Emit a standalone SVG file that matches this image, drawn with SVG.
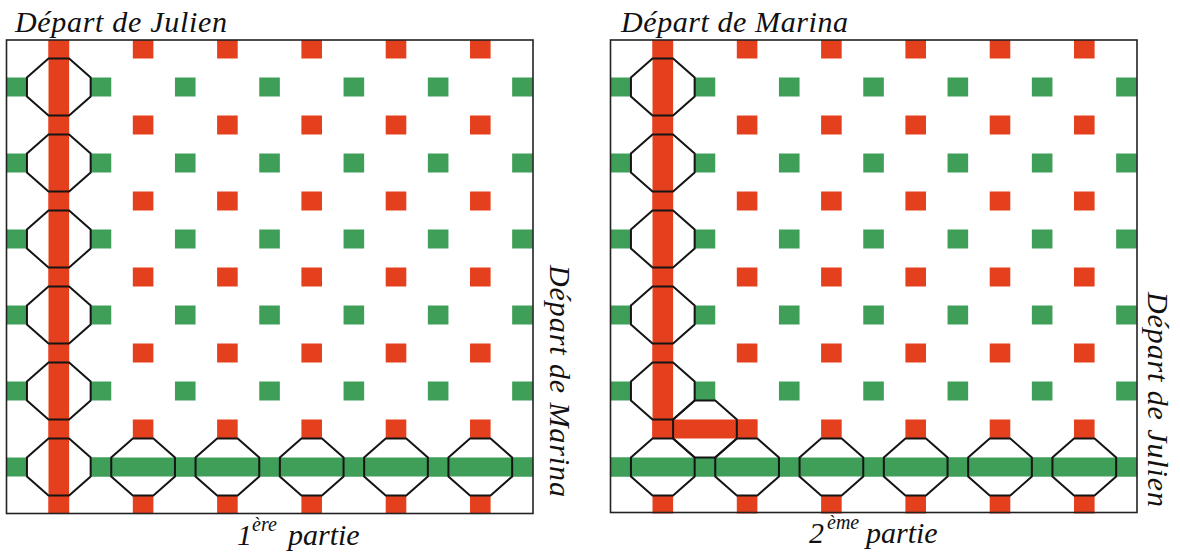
<svg xmlns="http://www.w3.org/2000/svg" xmlns:xlink="http://www.w3.org/1999/xlink" width="1180" height="555" viewBox="0 0 1180 555">
<style>
.red{fill:#E5401E}
.green{fill:#3F9E58}
.oct{fill:none;stroke:#151515;stroke-width:2;stroke-linejoin:miter}
.frame{fill:none;stroke:#222;stroke-width:1.6}
.lbl{font-family:'Liberation Serif','DejaVu Serif',serif;font-style:italic;fill:#111;font-size:30px}
.sup{font-size:20px}
</style>
<defs>
<g id="redRow" class="red">
<rect x="48.5" y="-9.5" width="20.6" height="19"/>
<rect x="132.8" y="-9.5" width="20.6" height="19"/>
<rect x="217.1" y="-9.5" width="20.6" height="19"/>
<rect x="301.4" y="-9.5" width="20.6" height="19"/>
<rect x="385.7" y="-9.5" width="20.6" height="19"/>
<rect x="470.0" y="-9.5" width="20.6" height="19"/>
</g>
<g id="greenRow" class="green">
<rect x="6.35" y="-9.5" width="20.6" height="19"/>
<rect x="90.65" y="-9.5" width="20.6" height="19"/>
<rect x="174.95" y="-9.5" width="20.6" height="19"/>
<rect x="259.25" y="-9.5" width="20.6" height="19"/>
<rect x="343.55" y="-9.5" width="20.6" height="19"/>
<rect x="427.85" y="-9.5" width="20.6" height="19"/>
<rect x="512.15" y="-9.5" width="20.6" height="19"/>
</g>
<g id="grid">
<use href="#redRow" y="49"/>
<use href="#redRow" y="125"/>
<use href="#redRow" y="201"/>
<use href="#redRow" y="277"/>
<use href="#redRow" y="353"/>
<use href="#redRow" y="429"/>
<use href="#redRow" y="505"/>
<use href="#greenRow" y="87"/>
<use href="#greenRow" y="163"/>
<use href="#greenRow" y="239"/>
<use href="#greenRow" y="315"/>
<use href="#greenRow" y="391"/>
<use href="#greenRow" y="467"/>
</g>
<path id="oct" d="M-10.3,-28.5 H10.3 L31.85,-9.5 V9.5 L10.3,28.5 H-10.3 L-31.85,9.5 V-9.5 Z"/>
<clipPath id="clip"><rect x="6.5" y="40" width="526.5" height="473.5"/></clipPath>
</defs>

<g id="panel1">
<g clip-path="url(#clip)">
<use href="#grid"/>
<rect class="red" x="48.5" y="40" width="20.6" height="473.5"/>
<rect class="green" x="90.65" y="457.5" width="442.35" height="19"/>
</g>
<g id="links1" class="oct">
<use href="#oct" x="58.8" y="87"/>
<use href="#oct" x="58.8" y="163"/>
<use href="#oct" x="58.8" y="239"/>
<use href="#oct" x="58.8" y="315"/>
<use href="#oct" x="58.8" y="391"/>
<use href="#oct" x="58.8" y="467"/>
<use href="#oct" x="143.1" y="467"/>
<use href="#oct" x="227.4" y="467"/>
<use href="#oct" x="311.7" y="467"/>
<use href="#oct" x="396.0" y="467"/>
<use href="#oct" x="480.3" y="467"/>
</g>
<rect class="frame" x="6.5" y="40" width="526.5" height="473.5"/>
</g>

<g id="panel2" transform="translate(604,0)">
<g clip-path="url(#clip)">
<use href="#grid"/>
<rect class="red" x="48.5" y="40" width="20.6" height="398.5"/>
<rect class="red" x="48.5" y="419.5" width="104.9" height="19"/>
<rect class="green" x="6.5" y="457.5" width="526.5" height="19"/>
</g>
<g id="links2" class="oct">
<use href="#oct" x="58.8" y="87"/>
<use href="#oct" x="58.8" y="163"/>
<use href="#oct" x="58.8" y="239"/>
<use href="#oct" x="58.8" y="315"/>
<use href="#oct" x="58.8" y="391"/>
<use href="#oct" x="100.95" y="429"/>
<use href="#oct" x="58.8" y="467"/>
<use href="#oct" x="143.1" y="467"/>
<use href="#oct" x="227.4" y="467"/>
<use href="#oct" x="311.7" y="467"/>
<use href="#oct" x="396.0" y="467"/>
<use href="#oct" x="480.3" y="467"/>
</g>
<rect class="frame" x="6.5" y="40" width="526.5" height="472.5"/>
</g>

<g id="labels" font-family="Liberation Serif, serif" font-style="italic">
<text class="lbl" x="15" y="32" textLength="212">Départ de Julien</text>
<text class="lbl" x="621" y="32" textLength="227">Départ de Marina</text>
<text class="lbl" transform="translate(550,265) rotate(90)" textLength="232">Départ de Marina</text>
<text class="lbl" transform="translate(1148,292) rotate(90)" textLength="215">Départ de Julien</text>
<text class="lbl" x="237" y="545">1</text>
<text class="lbl sup" x="252" y="531">ère</text>
<text class="lbl" x="288" y="545">partie</text>
<text class="lbl" x="809" y="543">2</text>
<text class="lbl sup" x="827" y="529">ème</text>
<text class="lbl" x="866" y="543">partie</text>
</g>
</svg>
